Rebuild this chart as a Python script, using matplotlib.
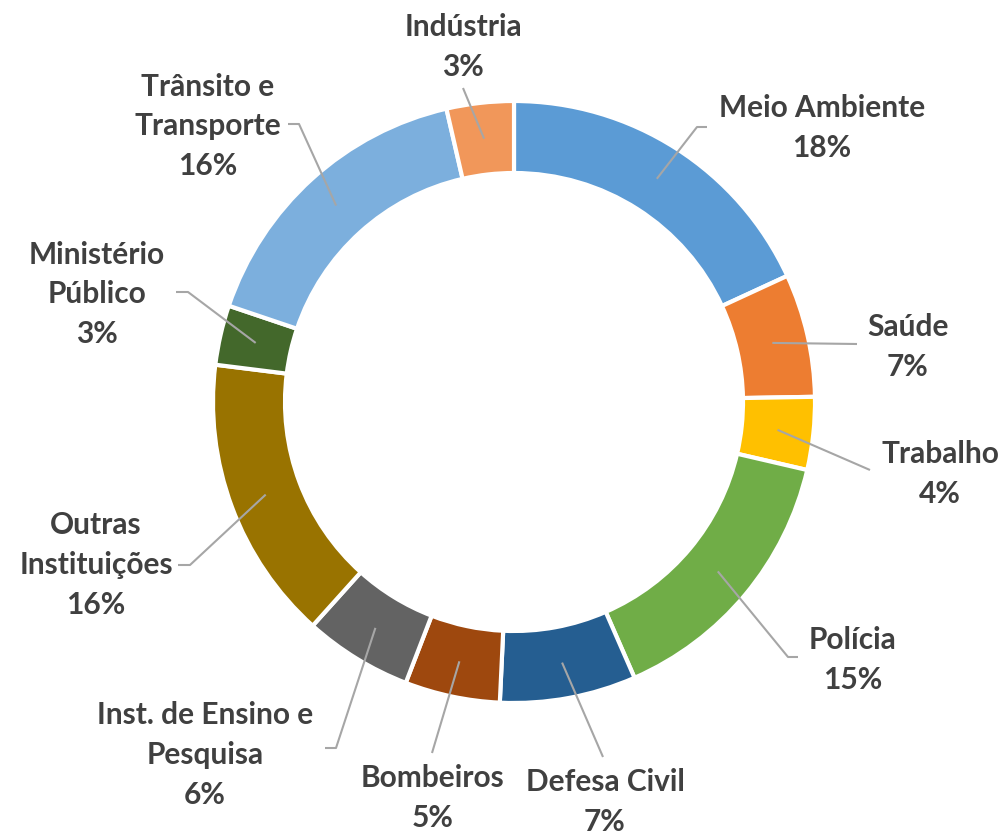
import numpy as np
import matplotlib.pyplot as plt

# Share of each institution, clockwise from 12 o'clock
labels = ["Meio Ambiente", "Saúde", "Trabalho", "Polícia", "Defesa Civil",
          "Bombeiros", "Inst. de Ensino e\nPesquisa", "Outras\nInstituições",
          "Ministério\nPúblico", "Trânsito e\nTransporte", "Indústria"]
shares = [18.1, 6.6, 3.9, 14.8, 7.3, 5.1, 5.8, 15.3, 3.2, 16.2, 3.6]
pct_text = ["18%", "7%", "4%", "15%", "7%", "5%", "6%", "16%", "3%", "16%", "3%"]

colors = ["#5B9BD5", "#ED7D31", "#FFC000", "#70AD47", "#255E91", "#9E480E",
          "#636363", "#997300", "#43682B", "#7CAFDD", "#F1975A"]

W, H = 1002, 833

# label block centres and leader line points, in pixels (y from top)
text_pos = [(822, 128), (908, 347), (940, 474), (853, 660), (605, 802),
            (433, 798), (205, 755), (96, 565), (97, 294), (208, 126), (463, 47)]
leader_pts = [[(697, 127), (707, 127)], [(857, 344)], [(870, 470)],
              [(788, 657), (798, 657)], [(603, 757)], [(432, 753)],
              [(336, 748), (325, 748)], [(190, 565), (178, 565)],
              [(188, 292), (176, 292)], [(299, 124), (288, 124)], [(463, 88)]]


def px(x, y):
    return x, H - y


cx, cy = px(514, 402)
r_out = 301
ring = 72

fig = plt.figure(figsize=(W / 100, H / 100), dpi=100)
ax = fig.add_axes([0, 0, 1, 1])

wedges, _ = ax.pie(shares, colors=colors, startangle=90, counterclock=False,
                   center=(cx, cy), radius=r_out,
                   wedgeprops={"width": ring, "edgecolor": "white", "linewidth": 3})

ax.set_xlim(0, W)
ax.set_ylim(0, H)
ax.set_aspect("equal")
ax.axis("off")

r_mid = r_out - ring / 2
for w, lab, pct, tp, pts in zip(wedges, labels, pct_text, text_pos, leader_pts):
    ang = np.deg2rad((w.theta1 + w.theta2) / 2)
    start = (cx + r_mid * np.cos(ang), cy + r_mid * np.sin(ang))
    path = [start] + [px(*p) for p in pts]
    xs, ys = zip(*path)
    ax.plot(xs, ys, color="#A6A6A6", lw=1.5, solid_capstyle="butt")
    ax.text(*px(*tp), lab + "\n" + pct, ha="center", va="center",
            fontsize=21.5, fontweight="bold", family="Lato", color="#404040",
            linespacing=1.5)

fig.savefig("out.png", dpi=100)
